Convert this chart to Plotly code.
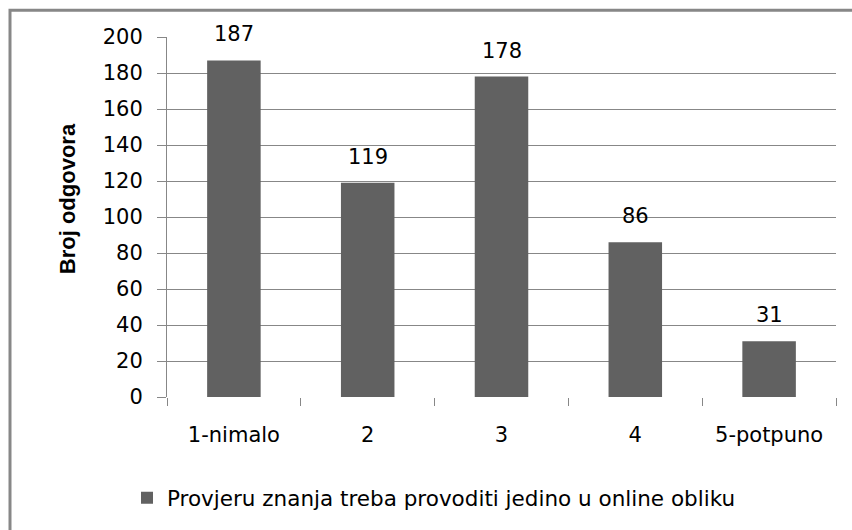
import plotly.graph_objects as go

categories = ["1-nimalo", "2", "3", "4", "5-potpuno"]
responses = [187, 119, 178, 86, 31]
series_name = "Provjeru znanja treba provoditi jedino u online obliku"
y_title = "Broj odgovora"
y_ticks = [0, 20, 40, 60, 80, 100, 120, 140, 160, 180, 200]

W, H = 852, 530
ML, MR, MT, MB = 167, 16, 37, 129
PW, PH = W - ML - MR, H - MT - MB

def px_x(px):
    return (px - ML) / PW

def px_y(py):
    return (H - MB - py) / PH

BAR = "#616161"
LINE = "#878787"
FONT = "DejaVu Sans"

fig = go.Figure()
fig.add_trace(go.Bar(
    x=categories, y=responses, name=series_name,
    marker=dict(color=BAR, line=dict(width=0)),
    showlegend=True,
))

# value labels above each bar (category axis positions by index)
for i, v in enumerate(responses):
    fig.add_annotation(x=i, y=v, text=str(v), showarrow=False,
                       xref="x", yref="y", yanchor="bottom", yshift=12,
                       font=dict(family=FONT, size=21, color="#000000"))

# rotated axis title
fig.add_annotation(x=px_x(67), y=px_y(201), xref="paper", yref="paper",
                   xanchor="center", yanchor="middle",
                   text=f"<b>{y_title}</b>", textangle=-90, showarrow=False,
                   font=dict(family="Liberation Sans", size=22, color="#000000"))

# chart frame
fig.add_shape(type="rect", xref="paper", yref="paper",
              x0=px_x(10), x1=px_x(900), y0=px_y(600), y1=px_y(10),
              line=dict(color=LINE, width=3), fillcolor="rgba(0,0,0,0)",
              layer="below")

fig.update_layout(
    width=W, height=H,
    margin=dict(l=ML, r=MR, t=MT, b=MB, pad=0),
    paper_bgcolor="white", plot_bgcolor="white",
    bargap=0.6,
    font=dict(family=FONT, size=21, color="#000000"),
    showlegend=True,
    legend=dict(orientation="h", x=px_x(127), y=px_y(503),
                xanchor="left", yanchor="middle",
                font=dict(family=FONT, size=21.5, color="#000000"),
                bgcolor="rgba(0,0,0,0)", borderwidth=0),
    xaxis=dict(
        type="category", showgrid=False, showline=False, zeroline=False,
        ticks="outside", tickson="boundaries", ticklen=8, tickcolor=LINE,
        tickwidth=1, ticklabelstandoff=23,
        tickfont=dict(family=FONT, size=21, color="#000000"),
    ),
    yaxis=dict(
        range=[0, 200], tickvals=y_ticks, showgrid=True, gridcolor=LINE,
        gridwidth=1, showline=True, linecolor=LINE, linewidth=1,
        zeroline=True, zerolinecolor="white", zerolinewidth=1,
        ticks="outside", ticklen=9, tickcolor=LINE, tickwidth=1,
        ticklabelstandoff=10,
        tickfont=dict(family=FONT, size=21, color="#000000"),
    ),
)

fig.write_html("out.html")
